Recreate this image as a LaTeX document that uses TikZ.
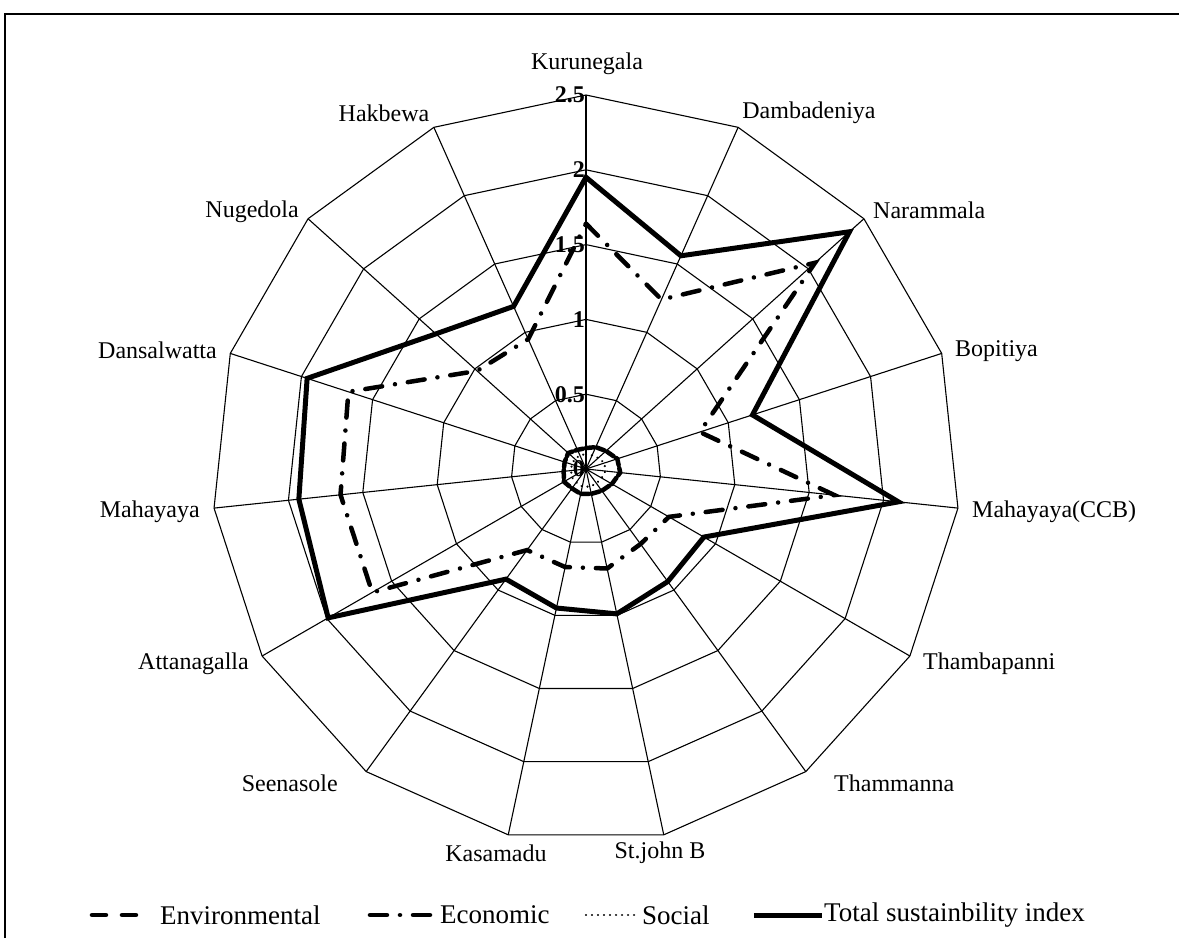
\documentclass[tikz,border=0pt]{standalone}
\usepackage{fontspec}
\setmainfont{Liberation Serif}
\begin{document}
\begin{tikzpicture}[x=149.6pt,y=149.6pt,
	gridline/.style={line width=1.1pt,black},
	envline/.style={line width=4.5pt,dash pattern=on 14pt off 16pt,line cap=round},
	ecoline/.style={line width=4.5pt,dash pattern=on 17pt off 13pt on 0.01pt off 13pt,line cap=round},
	socline/.style={line width=2.4pt,dash pattern=on 0.01pt off 6pt,line cap=round},
	totline/.style={line width=5pt,line join=miter},
	lbl/.style={font=\fontsize{24}{28}\selectfont,inner sep=0pt},
	leg/.style={font=\fontsize{27}{30}\selectfont,inner sep=0pt,anchor=west},
	tick/.style={font=\fontsize{24}{28}\selectfont\bfseries,anchor=east,inner sep=1pt}]
	\useasboundingbox (-586pt,-469pt) rectangle (593pt,469pt);
	% frame
	\draw[line width=1.2pt] (-581pt,-469pt)--(-581pt,455pt)--(593pt,455pt);
	% spokes and rings
	\foreach \a in {0,...,14} \draw[gridline] (0,0)--({90-24*\a}:2.5);
	\foreach \r in {0.5,1,1.5,2,2.5}
		\draw[gridline] (90:\r) \foreach \a in {1,...,14}{--({90-24*\a}:\r)} --cycle;
	\foreach \v in {0,0.5,1,1.5,2,2.5} \node[tick] (t\v) at (0,\v) {\v};
	% categories
	\node[lbl] (kur) at (1pt,405pt) {Kurunegala};
	\node[lbl] (dam) at (223pt,356pt) {Dambadeniya};
	\node[lbl,anchor=west] (nar) at (287pt,259pt) {Narammala};
	\node[lbl,anchor=west] (bop) at (369pt,118pt) {Bopitiya};
	\node[lbl,anchor=west] (mcc) at (386pt,-43pt) {Mahayaya(CCB)};
	\node[lbl,anchor=west] (tmb) at (337pt,-195pt) {Thambapanni};
	\node[lbl,anchor=west] (tmm) at (248pt,-314pt) {Thammanna};
	\node[lbl] (stj) at (74pt,-384pt) {St.john B};
	\node[lbl] (kas) at (-90pt,-384pt) {Kasamadu};
	\node[lbl,anchor=east] (see) at (-248pt,-314pt) {Seenasole};
	\node[lbl,anchor=east] (att) at (-337pt,-195pt) {Attanagalla};
	\node[lbl,anchor=east] (mah) at (-386pt,-43pt) {Mahayaya};
	\node[lbl,anchor=east] (dan) at (-369pt,119pt) {Dansalwatta};
	\node[lbl,anchor=east] (nug) at (-287pt,257pt) {Nugedola};
	\node[lbl] (hak) at (-202pt,356pt) {Hakbewa};
	% series
	\draw[socline] (90:0.10)--(66:0.10)--(42:0.11)--(18:0.13)--(-6:0.13)--(-30:0.12)--(-54:0.12)--(-78:0.12)--(-102:0.12)--(-126:0.11)--(-150:0.11)--(-174:0.10)--(162:0.10)--(138:0.10)--(114:0.10)--cycle;
	\draw[envline,dash pattern=on 8pt off 3pt] (90:0.14)--(66:0.16)--(42:0.18)--(18:0.22)--(-6:0.23)--(-30:0.20)--(-54:0.18)--(-78:0.17)--(-102:0.17)--(-126:0.16)--(-150:0.17)--(-174:0.15)--(162:0.15)--(138:0.16)--(114:0.14)--cycle;
	\draw[ecoline] (90:1.64)--(66:1.24)--(42:2.06)--(18:0.80)--(-6:1.67)--(-30:0.64)--(-54:0.62)--(-78:0.68)--(-102:0.67)--(-126:0.67)--(-150:1.65)--(-174:1.65)--(162:1.67)--(138:0.98)--(114:0.95)--cycle;
	\draw[totline] (90:1.95)--(66:1.56)--(42:2.37)--(18:1.17)--(-6:2.10)--(-30:0.91)--(-54:0.93)--(-78:0.99)--(-102:0.95)--(-126:0.91)--(-150:1.99)--(-174:1.93)--(162:1.96)--(138:1.35)--(114:1.19)--cycle;
	% legend
	\draw[envline] (-494pt,-446pt)--(-436pt,-446pt);
	\node[leg] (envtxt) at (-426pt,-446pt) {Environmental};
	\draw[ecoline] (-216pt,-446pt)--(-150pt,-446pt);
	\node[leg] (ecotxt) at (-146pt,-446pt) {Economic};
	\draw[socline] (0pt,-446pt)--(50pt,-446pt);
	\node[leg] (soctxt) at (56pt,-446pt) {Social};
	\draw[totline] (168pt,-446pt)--(236pt,-446pt);
	\node[leg] (tottxt) at (238pt,-446pt) {Total sustainbility index};
\end{tikzpicture}
\end{document}
